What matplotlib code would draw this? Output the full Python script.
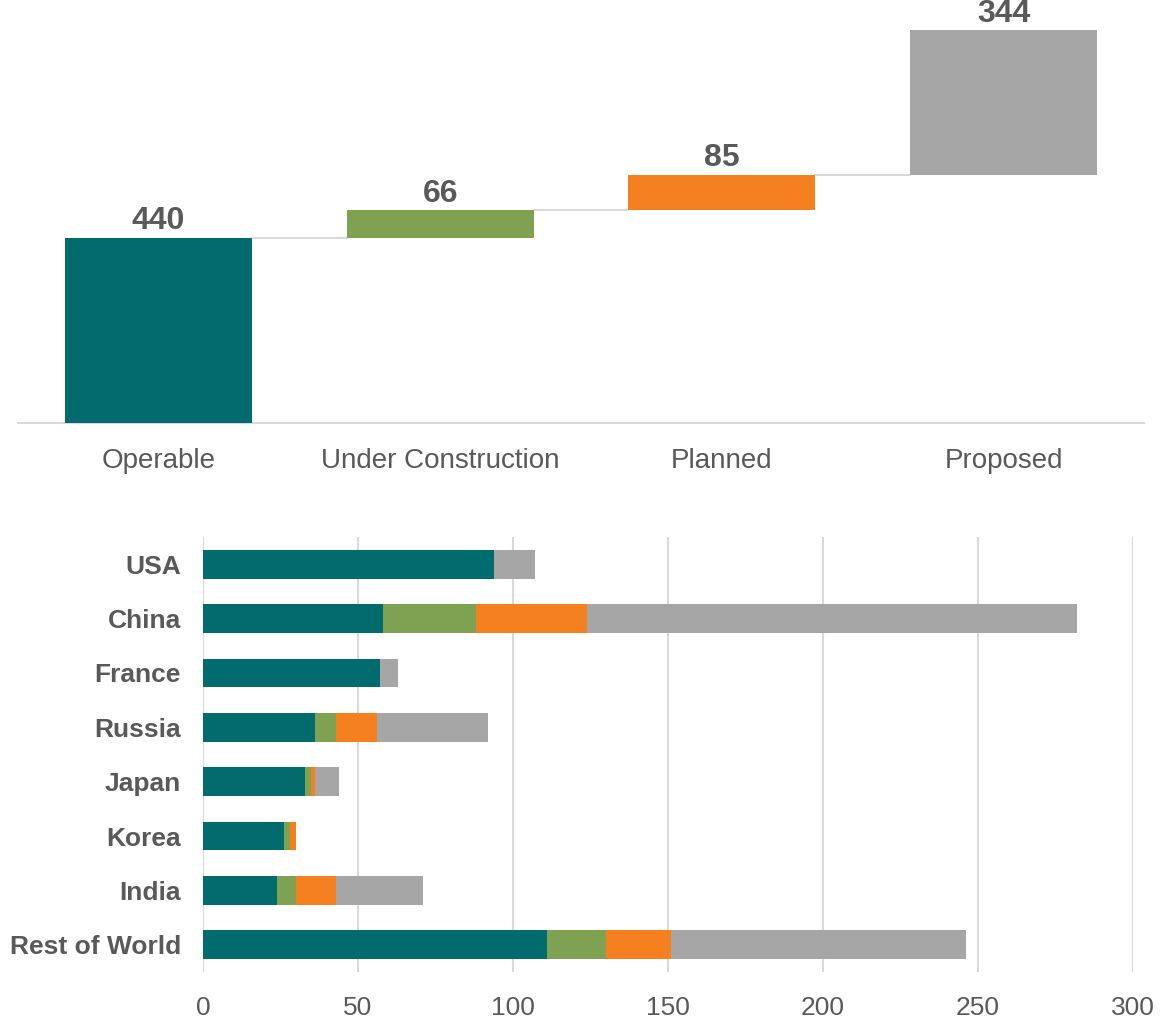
import numpy as np
import matplotlib
matplotlib.use('Agg')
import matplotlib.pyplot as plt

plt.rcParams['font.family'] = ['Liberation Sans Narrow', 'Liberation Sans', 'DejaVu Sans']

# =======================================================
# Data
stages = ['Operable', 'Under Construction', 'Planned', 'Proposed']
stage_totals = [440, 66, 85, 344]

countries = ['USA', 'China', 'France', 'Russia', 'Japan', 'Korea', 'India', 'Rest of World']
operable = [94, 58, 57, 36, 33, 26, 24, 111]
under_construction = [0, 30, 0, 7, 2, 2, 6, 19]
planned = [0, 36, 0, 13, 1, 2, 13, 21]
proposed = [13, 158, 6, 36, 8, 0, 28, 95]

colors = ['#016B6E', '#7FA152', '#F58020', '#A6A6A6']
text_col = '#595959'
grid_col = '#D9D9D9'

fig = plt.figure(figsize=(11.62, 10.19), dpi=100)

# =======================================================
# Waterfall (top)
ax1 = fig.add_axes([0.0152, 0.5849, 0.9696, 0.4122])
x = np.arange(len(stages))
bottoms = np.concatenate([[0], np.cumsum(stage_totals)[:-1]])
tops = np.cumsum(stage_totals)
w = 0.664
ax1.bar(x, stage_totals, bottom=bottoms, width=w, color=colors, zorder=3)
for i in range(len(stages) - 1):
    ax1.plot([x[i] + w / 2, x[i + 1] - w / 2], [tops[i], tops[i]],
             color=grid_col, lw=1.5, zorder=2)
for i, v in enumerate(stage_totals):
    ax1.text(x[i], tops[i] + 4, str(v), ha='center', va='bottom',
             fontsize=23, fontweight='bold', color=text_col)
ax1.set_xlim(-0.5, 3.5)
ax1.set_ylim(0, 1000)
ax1.set_xticks(x)
ax1.set_xticklabels(stages, fontsize=20, color=text_col)
ax1.tick_params(axis='x', length=0, pad=18)
ax1.set_yticks([])
for s in ['top', 'right', 'left']:
    ax1.spines[s].set_visible(False)
ax1.spines['bottom'].set_color(grid_col)
ax1.spines['bottom'].set_linewidth(1.5)

# =======================================================
# Stacked bars by country (bottom)
ax2 = fig.add_axes([0.1747, 0.0461, 0.8003, 0.4269])
y = np.arange(len(countries))
left = np.zeros(len(countries))
for vals, c in zip([operable, under_construction, planned, proposed], colors):
    ax2.barh(y, vals, left=left, height=0.53, color=c, zorder=3)
    left = left + np.array(vals)
ax2.set_ylim(len(countries) - 0.5, -0.5)
ax2.set_xlim(0, 300)
ax2.set_xticks(np.arange(0, 301, 50))
ax2.set_yticks(y)
ax2.set_yticklabels(countries, fontsize=19, fontweight='bold', color=text_col)
ax2.tick_params(axis='y', length=0, pad=16)
ax2.tick_params(axis='x', length=0, pad=17, labelsize=19, labelcolor=text_col)
ax2.grid(axis='x', color=grid_col, lw=1.5, zorder=0)
for s in ax2.spines.values():
    s.set_visible(False)

fig.savefig('out.png', dpi=100, facecolor='white')
